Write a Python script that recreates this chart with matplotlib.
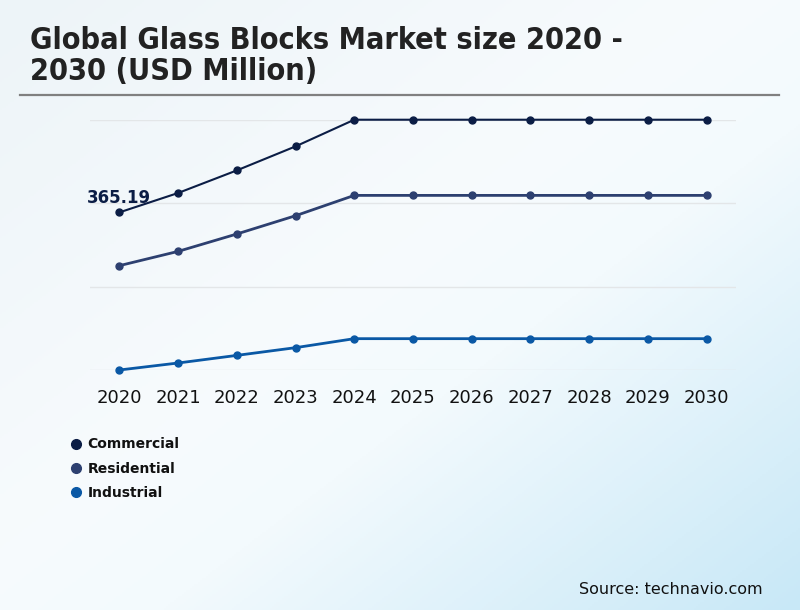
import numpy as np
import matplotlib
matplotlib.use("Agg")
import matplotlib.pyplot as plt
from matplotlib.colors import LinearSegmentedColormap
from matplotlib.lines import Line2D

# Chart data (USD Million)
years = [2020, 2021, 2022, 2023, 2024, 2025, 2026, 2027, 2028, 2029, 2030]
commercial = [365.19, 400.1, 440.8, 484.0, 532.0, 532.0, 532.0, 532.0, 532.0, 532.0, 532.0]
residential = [269.3, 295.0, 326.3, 359.2, 395.8, 395.8, 395.8, 395.8, 395.8, 395.8, 395.8]
industrial = [81.5, 94.1, 107.8, 121.7, 137.9, 137.9, 137.9, 137.9, 137.9, 137.9, 137.9]
grid_values = [81.5, 231.5, 381.5, 531.5]

series_names = ["Commercial", "Residential", "Industrial"]
series_colors = ["#0b1d45", "#2d4070", "#0a58a5"]

title = "Global Glass Blocks Market size 2020 -\n2030 (USD Million)"
source = "Source: technavio.com"

W, H = 800, 610
fig = plt.figure(figsize=(W / 100, H / 100), dpi=100)

# soft diagonal background gradient
bg = fig.add_axes([0, 0, 1, 1], zorder=-10)
xx, yy = np.meshgrid(np.linspace(0, 1, 400), np.linspace(0, 1, 305))
t = (xx + yy) / 2
cmap = LinearSegmentedColormap.from_list(
    "bg", [(0, "#edf4f8"), (0.45, "#f7fbfd"), (0.6, "#f3fafd"), (1, "#c8e8f7")])
bg.imshow(t, cmap=cmap, aspect="auto", extent=[0, 1, 0, 1], origin="upper")
bg.axis("off")

# main plotting area
left, right, top, bottom = 90, 736, 120, 370
ax = fig.add_axes([left / W, 1 - bottom / H, (right - left) / W, (bottom - top) / H])
ax.patch.set_alpha(0)

widths = [1.5, 2.0, 2.0]
for vals, color, lw in zip([commercial, residential, industrial], series_colors, widths):
    ax.plot(years, vals, color=color, lw=lw, marker="o", markersize=5,
            clip_on=False, zorder=3)

ax.set_xlim(2019.5, 2030.5)
ax.set_ylim(grid_values[0], grid_values[-1])
ax.set_yticks(grid_values)
ax.set_yticklabels([])
ax.set_xticks(years)
ax.set_xticklabels([str(y) for y in years], fontsize=13, color="#111111")
ax.tick_params(axis="y", length=0)
ax.tick_params(axis="x", length=0, pad=14)
ax.grid(axis="y", color="#e3e6e8", lw=1)
for s in ax.spines.values():
    s.set_visible(False)

ax.annotate(f"{commercial[0]:.2f}", (years[0], commercial[0]), xytext=(0, 4),
            textcoords="offset points", ha="center", va="bottom",
            fontsize=12, fontweight="bold", color=series_colors[0])

# title and separator
fig.text(30 / W, 1 - 26 / H, title, ha="left", va="top", fontsize=22,
         fontweight="bold", fontstretch="condensed", color="#222222", linespacing=1.1)
fig.add_artist(Line2D([20 / W, 779 / W], [1 - 95 / H, 1 - 95 / H],
                      color="#808080", lw=1.6))

# legend
handles = [Line2D([], [], ls="none", marker="o", markersize=7, color=c) for c in series_colors]
leg = fig.legend(handles, series_names, loc="upper left", bbox_to_anchor=(55 / W, 1 - 425 / H),
                 frameon=False, handletextpad=0.25, labelspacing=0.75,
                 prop={"weight": "bold", "size": 10}, handlelength=1.2)
for txt in leg.get_texts():
    txt.set_color("#111111")

fig.text(763 / W, 1 - 589 / H, source, ha="right", va="center", fontsize=11.5, color="#111111")

fig.savefig("out.png", dpi=100)
